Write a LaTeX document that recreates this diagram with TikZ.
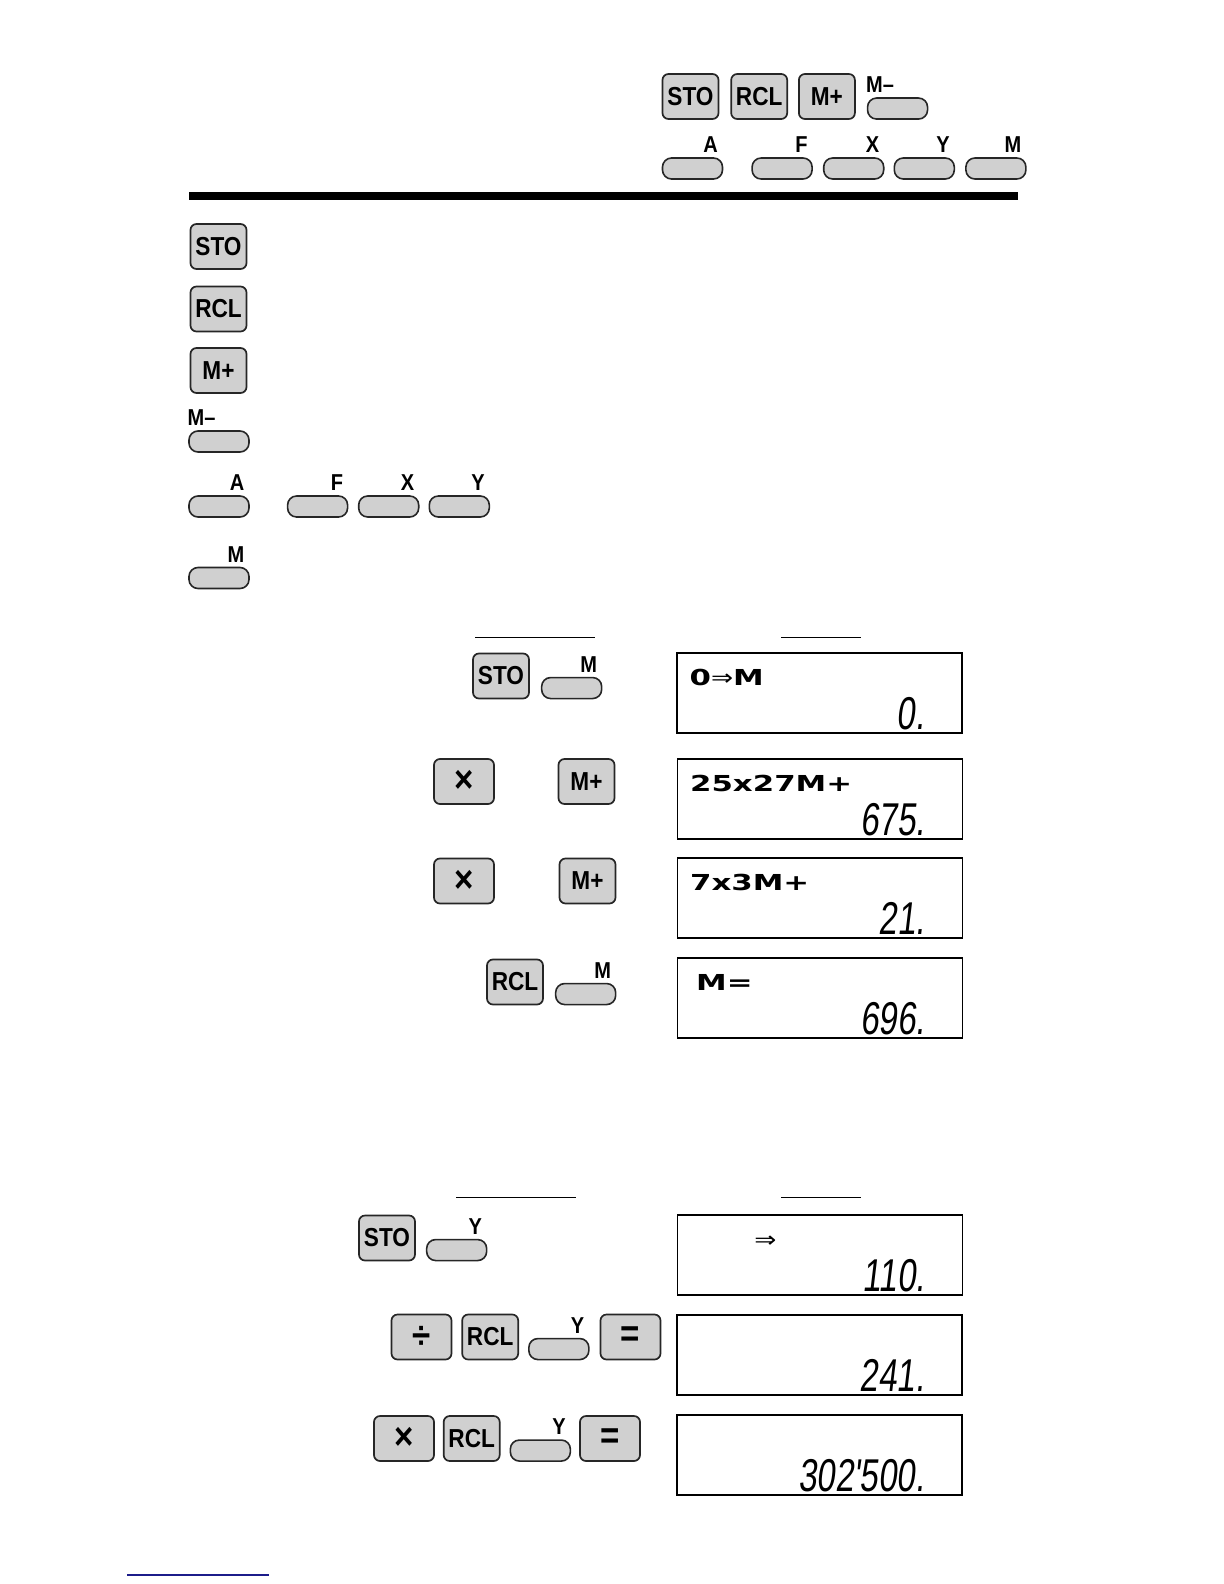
\documentclass[tikz,border=0pt]{standalone}
\usepackage{fontspec}
\setmainfont{Liberation Sans}
\newfontfamily\keyfont[FakeStretch=0.87]{Liberation Sans}
\newfontfamily\lcdfont[FakeStretch=1.4]{DejaVu Sans}
\newfontfamily\lcdarrow[FakeStretch=1.2]{DejaVu Sans}
\newfontfamily\segfont[FakeStretch=0.72,FakeSlant=0.12]{Liberation Sans}
\definecolor{KeyGray}{HTML}{D0D0D0}
\definecolor{LinkNavy}{HTML}{1C1C8A}
\usetikzlibrary{positioning}

\begin{document}
\begin{tikzpicture}[
  x=0.5pt, y=-0.5pt,
  bigkey/.style={
    draw=black!85, line width=0.85pt, fill=KeyGray, rounded corners=3pt,
    minimum width=28pt, minimum height=22.5pt, inner sep=0pt,
    font=\keyfont\bfseries\fontsize{13}{13}\selectfont
  },
  opkey/.style={bigkey, minimum width=30pt,
    font=\keyfont\bfseries\fontsize{19}{19}\selectfont},
  flatkey/.style={
    draw=black!85, line width=0.8pt, fill=KeyGray, rounded corners=4.5pt,
    minimum width=30pt, minimum height=10.5pt, inner sep=0pt
  },
  keytag/.style={font=\keyfont\bfseries\fontsize{11.5}{11.5}\selectfont,
    inner sep=0pt, anchor=south east, xshift=-2.5pt, yshift=2pt},
  minustag/.style={keytag, anchor=south west, xshift=2pt},
  lcd/.style={draw=black, line width=0.8pt,
    minimum width=142.5pt, minimum height=40pt, inner sep=0pt},
  lcdtxt/.style={font=\lcdfont\bfseries\fontsize{11}{11}\selectfont,
    inner sep=0pt, anchor=base west, xshift=6.5pt, yshift=-16.5pt},
  lcdnum/.style={font=\segfont\fontsize{23}{23}\selectfont,
    inner sep=0pt, anchor=base east, xshift=-19pt, yshift=2pt},
  colrule/.style={line width=0.5pt}
]
  \useasboundingbox (0,0) rectangle (1224,1584);

  % key overview at the top
  \node[bigkey] (tsto) at (690.5,96.5) {STO};
  \node[bigkey, right=5.5pt of tsto] (trcl) {RCL};
  \node[bigkey, right=5pt of trcl] (tmplus) {M+};
  \node[flatkey, right=5.5pt of tmplus.south east, anchor=south west,
    label={[minustag]north west:M–}] (tmminus) {};
  \node[flatkey, label={[keytag]north east:A}] (ta) at (692.5,168.5) {};
  \node[flatkey, right=14pt of ta, label={[keytag]north east:F}] (tf) {};
  \node[flatkey, right=5pt of tf, label={[keytag]north east:X}] (tx) {};
  \node[flatkey, right=4.5pt of tx, label={[keytag]north east:Y}] (ty) {};
  \node[flatkey, right=5pt of ty, label={[keytag]north east:M}] (tm) {};
  \draw[line width=4pt] (189,196) -- (1018,196);

  % keys listed on the left
  \node[bigkey] (lsto) at (218.5,246.5) {STO};
  \node[bigkey] (lrcl) at (218.5,309) {RCL};
  \node[bigkey] (lmplus) at (218.5,370.5) {M+};
  \node[flatkey, label={[minustag]north west:M–}] (lmminus) at (219,441.5) {};
  \node[flatkey, label={[keytag]north east:A}] (la) at (219,506.5) {};
  \node[flatkey, right=18.5pt of la, label={[keytag]north east:F}] (lf) {};
  \node[flatkey, right=4.75pt of lf, label={[keytag]north east:X}] (lx) {};
  \node[flatkey, right=4.5pt of lx, label={[keytag]north east:Y}] (ly) {};
  \node[flatkey, label={[keytag]north east:M}] (lm) at (219,578) {};

  % example 1
  \draw[colrule] (475,637) -- (595,637);
  \draw[colrule] (781,637) -- (861,637);
  \node[bigkey] (asto) at (501,676) {STO};
  \node[flatkey, right=5.5pt of asto.south east, anchor=south west,
    label={[keytag]north east:M}] (am) {};
  \node[lcd] (d1) at (819.5,693) {};
  \node[lcdtxt] (d1t) at (d1.north west) {0{\lcdarrow\mdseries ⇒}M};
  \node[lcdnum] (d1n) at (d1.south east) {0.};

  \node[opkey] (bmul) at (464,781.5) {×};
  \node[bigkey] (bmplus) at (586.5,781.5) {M+};
  \node[lcd] (d2) at (820,799) {};
  \node[lcdtxt] (d2t) at (d2.north west) {25x27M+};
  \node[lcdnum] (d2n) at (d2.south east) {675.};

  \node[opkey] (cmul) at (464,881) {×};
  \node[bigkey] (cmplus) at (587.5,881) {M+};
  \node[lcd] (d3) at (820,898) {};
  \node[lcdtxt] (d3t) at (d3.north west) {7x3M+};
  \node[lcdnum] (d3n) at (d3.south east) {21.};

  \node[bigkey] (drcl) at (515,982) {RCL};
  \node[flatkey, right=5.5pt of drcl.south east, anchor=south west,
    label={[keytag]north east:M}] (dm) {};
  \node[lcd] (d4) at (820,998) {};
  \node[lcdtxt, xshift=3pt] (d4t) at (d4.north west) {M=};
  \node[lcdnum] (d4n) at (d4.south east) {696.};

  % example 2
  \draw[colrule] (456,1197) -- (576,1197);
  \draw[colrule] (781,1197) -- (861,1197);
  \node[bigkey] (esto) at (387,1238) {STO};
  \node[flatkey, right=5pt of esto.south east, anchor=south west,
    label={[keytag]north east:Y}] (ey) {};
  \node[lcd] (d5) at (820,1255) {};
  \node[lcdtxt] (d5t) at (d5.north west) {\phantom{110}{\lcdarrow\mdseries ⇒}};
  \node[lcdnum] (d5n) at (d5.south east) {110.};

  \node[opkey] (fdiv) at (421.5,1337) {÷};
  \node[bigkey, right=4.5pt of fdiv] (frcl) {RCL};
  \node[flatkey, right=4.5pt of frcl.south east, anchor=south west,
    label={[keytag]north east:Y}] (fy) {};
  \node[opkey, right=5pt of fy.south east, anchor=south west] (feq) {=};
  \node[lcd] (d6) at (819.5,1355) {};
  \node[lcdnum] (d6n) at (d6.south east) {241.};

  \node[opkey] (gmul) at (404,1438.5) {×};
  \node[bigkey, right=4pt of gmul] (grcl) {RCL};
  \node[flatkey, right=4.5pt of grcl.south east, anchor=south west,
    label={[keytag]north east:Y}] (gy) {};
  \node[opkey, right=4pt of gy.south east, anchor=south west] (geq) {=};
  \node[lcd] (d7) at (819.5,1455) {};
  \node[lcdnum] (d7n) at (d7.south east) {302'500.};

  \draw[LinkNavy, line width=0.6pt] (127,1575) -- (269,1575);
\end{tikzpicture}
\end{document}
